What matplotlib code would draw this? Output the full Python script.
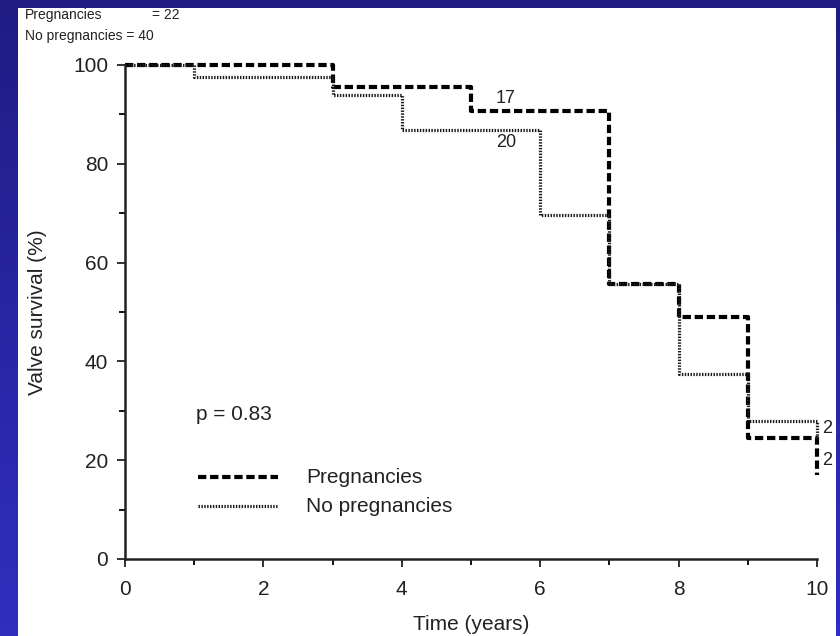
import numpy as np
import matplotlib
matplotlib.use('Agg')
import matplotlib.pyplot as plt
from matplotlib.colors import LinearSegmentedColormap
from matplotlib.patches import Rectangle

#=====================
#===== Data
#=====================
t_preg = [0, 3, 5, 7, 8, 9, 10]
s_preg = [100, 95.5, 90.7, 55.7, 49.0, 24.5, 17.0]

t_nopreg = [0, 1, 3, 4, 6, 7, 8, 9, 10]
s_nopreg = [100, 97.5, 94.0, 86.8, 69.6, 55.7, 37.4, 27.9, 24.5]

at_risk_labels = ['17', '20', '2', '2']
at_risk_x = [5.36, 5.36, 10.07, 10.07]
at_risk_y = [93.3, 84.3, 26.5, 20.0]

xticks = [0, 2, 4, 6, 8, 10]
yticks = [0, 20, 40, 60, 80, 100]

plt.rcParams['font.family'] = ['Liberation Sans', 'DejaVu Sans']

#=====================
#===== Figure + blue frame
#=====================
fig = plt.figure(figsize=(8.4, 6.36), dpi=100)

bg = fig.add_axes([0, 0, 1, 1])
cmap = LinearSegmentedColormap.from_list('frame', ['#201c84', '#2f2fc0'])
grad = np.linspace(0, 1, 256).reshape(-1, 1)
bg.imshow(grad, cmap=cmap, aspect='auto', extent=[0, 1, 0, 1], origin='upper')
bg.add_patch(Rectangle((18 / 840, 0), (836 - 18) / 840, (636 - 8) / 636,
                       facecolor='white', edgecolor='none', transform=bg.transAxes))
bg.set_xlim(0, 1)
bg.set_ylim(0, 1)
bg.axis('off')

#=====================
#===== Main plot
#=====================
ax = fig.add_axes([125 / 840, 77 / 636, 692 / 840, 494 / 636])
ax.patch.set_alpha(0)

dash = (0, (2.0, 0.9))
dots = (0, (0.45, 0.45))
ax.step(t_preg, s_preg, where='post', color='black', lw=3,
        linestyle=dash, clip_on=False)
ax.step(t_nopreg, s_nopreg, where='post', color='#1a1a1a', lw=2.3,
        linestyle=dots, clip_on=False)

for lab, x, y in zip(at_risk_labels, at_risk_x, at_risk_y):
    ax.text(x, y, lab, fontsize=13, color='#222222', va='center', ha='left')

ax.text(1.02, 29.2, 'p = 0.83', fontsize=15, color='#222222', va='center', ha='left')

# legend drawn by hand
ax.plot([1.05, 2.21], [16.5, 16.5], color='black', lw=3, linestyle=dash)
ax.plot([1.05, 2.21], [10.7, 10.7], color='#1a1a1a', lw=2.3, linestyle=dots)
ax.text(2.62, 16.5, 'Pregnancies', fontsize=15, color='#222222', va='center', ha='left')
ax.text(2.62, 10.7, 'No pregnancies', fontsize=15, color='#222222', va='center', ha='left')

ax.set_xlim(0, 10)
ax.set_ylim(0, 100)
ax.set_xticks(xticks)
ax.set_yticks(yticks)
ax.set_xticks(np.arange(1, 10, 2), minor=True)
ax.set_yticks(np.arange(10, 100, 20), minor=True)
ax.tick_params(axis='both', which='major', direction='out', length=6, width=1.3,
               labelsize=15, colors='#222222')
ax.tick_params(axis='x', which='major', pad=9)
ax.tick_params(axis='y', which='major', pad=6)
ax.tick_params(axis='both', which='minor', direction='out', length=4, width=1.3)
ax.spines['top'].set_visible(False)
ax.spines['right'].set_visible(False)
for s in ['left', 'bottom']:
    ax.spines[s].set_linewidth(1.8)
    ax.spines[s].set_color('#222222')

ax.set_xlabel('Time (years)', fontsize=15, color='#222222', labelpad=12)
ax.set_ylabel('Valve survival (%)', fontsize=15, color='#222222', labelpad=19)

#===== top-left counts
fig.text(25 / 840, 1 - 15 / 636, 'Pregnancies', fontsize=10, color='#222222', va='center')
fig.text(152 / 840, 1 - 15 / 636, '= 22', fontsize=10, color='#222222', va='center')
fig.text(25 / 840, 1 - 36 / 636, 'No pregnancies = 40', fontsize=10, color='#222222', va='center')

fig.savefig('out.png', dpi=100)
